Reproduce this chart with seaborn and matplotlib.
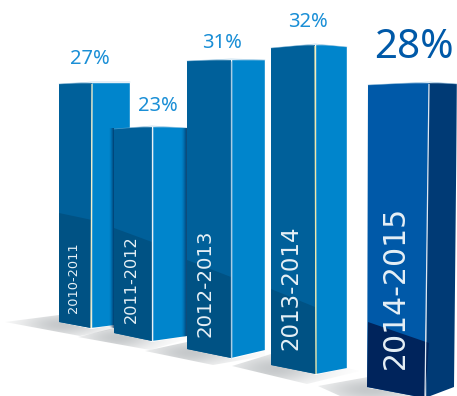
import matplotlib
matplotlib.use("Agg")
import numpy as np
import pandas as pd
import seaborn as sns
import matplotlib.pyplot as plt
from matplotlib.patches import Polygon

sns.set_theme(style="white")
plt.rcParams["font.family"] = ["DejaVu Sans"]

# Survey results per season
seasons = ["2010-2011", "2011-2012", "2012-2013", "2013-2014", "2014-2015"]
shares = [27, 23, 31, 32, 28]

# Perspective layout of each column, in canvas pixels
left_x = [59, 114, 187, 271, 368]
spine_x = [92, 152, 231, 315, 429]
right_x = [130, 187, 265, 347, 457]
base_y = [328, 341, 358, 374, 398]
px_per_point = [246 / 27, 215 / 23, 299 / 31, 330 / 32, 316 / 28]
left_top_drop = [2, 3, 2, 4, 3]
right_top_drop = [0, 2, 1, 3, 2]
left_bottom_rise = [6, 8, 9, 9, 11]
right_bottom_rise = [5, 5, 8, 6, 11]
spine_lean = [1, 0, 0, -1, 4]
outer_lean = [0, 0, 0, 0, 3]
band_left_y = [213, 228, 260, 289, 322]
band_spine_y = [220, 242, 277, 307, 343]

left_colors = ["#00609A", "#00609A", "#00609A", "#00609A", "#0059A8"]
band_colors = ["#005284", "#005284", "#005284", "#005284", "#00245C"]
right_colors = ["#0085CC", "#0085CC", "#0085CC", "#0085CC", "#003A75"]
spine_colors = ["#F2EFC8", "#EAF1F6", "#A9CCE3", "#F0E9A8", "#DFE8F2"]

label_x = [73, 131, 205, 291, 395]
label_y = [278, 279, 283, 288, 287]
label_sizes = [9.3, 11.6, 14.2, 16.5, 21.5]
share_x = [90, 158, 222, 308, 414]
share_y = [59, 106, 43, 22, 48]
share_sizes = [14.5, 14.5, 14.5, 14.5, 29]
share_colors = ["#1B8FD6"] * 4 + ["#0059A8"]

# Floor shadows: outline and the point where each is darkest
shadow_outlines = [
    [(5, 322), (59, 315), (59, 322), (92, 329), (114, 325), (114, 329), (80, 336)],
    [(78, 337), (114, 328), (152, 342), (187, 336), (187, 339), (150, 350)],
    [(145, 351), (187, 342), (231, 359), (265, 351), (265, 356), (213, 365)],
    [(232, 366), (271, 354), (316, 375), (347, 368), (360, 371), (307, 384)],
    [(318, 386), (368, 377), (368, 388), (425, 396), (340, 396)],
]
shadow_peaks = [(62, 324), (118, 337), (190, 352), (275, 368), (370, 389)]
shadow_radii = [(42, 13), (38, 13), (44, 14), (46, 16), (50, 14)]

fig = plt.figure(figsize=(4.57, 3.96), dpi=100)
ax = fig.add_axes([0, 0, 1, 1])

table = pd.DataFrame({"season": seasons, "share": shares})
table["height"] = table["share"] * np.array(px_per_point)

# Two passes of bars: the left faces, then the right faces of the columns
sns.barplot(data=table, x="season", y="height", hue="season", dodge=False,
            palette=left_colors, legend=False, saturation=1, ax=ax)
sns.barplot(data=table, x="season", y="height", hue="season", dodge=False,
            palette=right_colors, legend=False, saturation=1, ax=ax)
bars = [p for p in ax.patches if p.get_height() > 0]
left_bars, right_bars = bars[:5], bars[5:10]


def gradient(extent, rgb, alpha, z, clip=None):
    """Paint an RGBA alpha field over a canvas rectangle."""
    rgba = np.zeros(alpha.shape + (4,))
    rgba[..., :3] = matplotlib.colors.to_rgb(rgb)
    rgba[..., 3] = alpha
    im = ax.imshow(rgba, extent=extent, aspect="auto", zorder=z,
                   interpolation="bilinear", origin="upper")
    if clip is not None:
        im.set_clip_path(Polygon(clip, transform=ax.transData))


for i, season in enumerate(seasons):
    z = 10 + i * 5
    height = left_bars[i].get_height()
    top = base_y[i] - height
    sx, sb = spine_x[i], spine_x[i] - spine_lean[i]

    left_poly = [(left_x[i], top + left_top_drop[i]), (sx, top),
                 (sb, base_y[i]), (left_x[i] - outer_lean[i] / 3,
                                   base_y[i] - left_bottom_rise[i])]
    right_poly = [(sx, top), (right_x[i], top + right_top_drop[i]),
                  (right_x[i] - outer_lean[i], base_y[i] - right_bottom_rise[i]),
                  (sb, base_y[i])]

    for bar, x0, x1, poly in ((left_bars[i], left_x[i] - 2, sx + 1, left_poly),
                              (right_bars[i], min(sx, sb), right_x[i], right_poly)):
        bar.set_x(x0)
        bar.set_width(x1 - x0)
        bar.set_y(base_y[i])
        bar.set_height(-height)
        bar.set_zorder(z)
        bar.set_clip_path(Polygon(poly, transform=ax.transData))

    # Darker reflection across the foot of the left face
    ax.add_patch(Polygon([(left_x[i], band_left_y[i]), (sx, band_spine_y[i]),
                          (sb, base_y[i]), left_poly[3]],
                         closed=True, fc=band_colors[i], ec="none", zorder=z + 1))
    # Bright edge where the two faces meet
    ax.plot([sx, sb], [top + 2, base_y[i]], color=spine_colors[i], lw=0.9,
            zorder=z + 2, solid_capstyle="butt")
    # Pale rim along the top of the column
    ax.plot([p[0] for p in (left_poly[0], (sx, top), right_poly[1])],
            [p[1] for p in (left_poly[0], (sx, top), right_poly[1])],
            color="#7FB6DA", lw=0.5, alpha=0.6, zorder=z + 2)

    ax.text(label_x[i], label_y[i], season, rotation=90, ha="center", va="center",
            color="#E6F0F6", fontsize=label_sizes[i], zorder=z + 3)
    ax.text(share_x[i], share_y[i], f"{shares[i]}%", ha="center", va="center",
            color=share_colors[i], fontsize=share_sizes[i], family="Noto Sans",
            zorder=z + 3)

# Soft shadows cast on the floor behind the columns
yy, xx = np.mgrid[300:397, 0:457]
for outline, peak, radii in zip(shadow_outlines, shadow_peaks, shadow_radii):
    dist = ((xx - peak[0]) / radii[0]) ** 2 + ((yy - peak[1]) / radii[1]) ** 2
    gradient((0, 457, 397, 300), "#8C9296", 0.5 * np.exp(-dist), 2, clip=outline)

# Contact shading where one column stands in front of another
ramp = np.linspace(0, 0.85, 24).reshape(1, -1) ** 1.5
gradient((109, 114, 330, 127), "#002A55", ramp, 13,
         clip=[(109, 128), (114, 128), (114, 328), (109, 327)])
gradient((181, 187, 337, 128), "#002A55", ramp, 18,
         clip=[(181, 128), (187, 128), (187, 336), (181, 337)])

ax.set_xlim(0, 457)
ax.set_ylim(396, 0)
ax.set_xlabel("")
ax.set_ylabel("")
ax.axis("off")
fig.savefig("out.png", dpi=100, facecolor="white")
